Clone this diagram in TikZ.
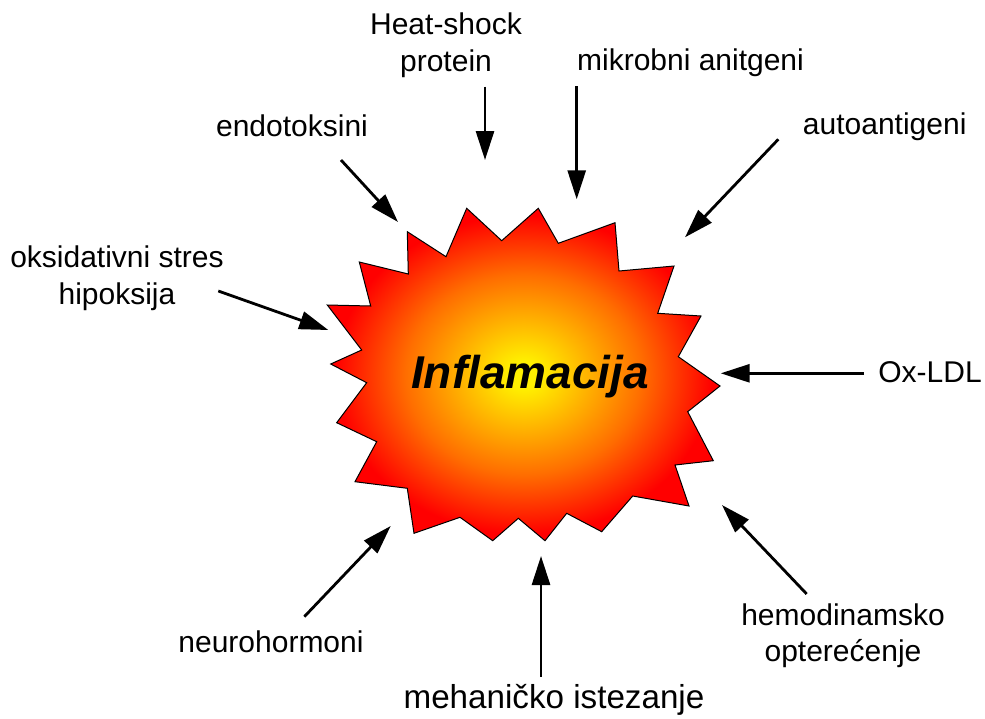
\documentclass[tikz,border=0pt]{standalone}
\usepackage{fontspec}
\setmainfont{Liberation Sans}
\usetikzlibrary{arrows.meta}
\definecolor{burstyellow}{RGB}{255,240,0}
\definecolor{burstgold}{RGB}{255,180,0}
\definecolor{burstorange}{RGB}{255,110,0}
\definecolor{burstred}{RGB}{255,0,0}
\pgfdeclareradialshading{burstfill}{\pgfpoint{0bp}{0bp}}{color(0bp)=(burstyellow); color(2bp)=(burstyellow); color(8bp)=(burstgold); color(15bp)=(burstorange); color(24bp)=(burstred); color(50bp)=(burstred)}
\tikzset{
	lbl/.style={font=\fontsize{15}{18.3}\selectfont, align=center, inner sep=0pt, anchor=base},
	arr/.style={line width=1.4pt, -{Triangle[length=14.5pt, width=9pt]}},
	burst/.style={draw=black, line width=0.5pt, shading=burstfill}
}
\begin{document}
\begin{tikzpicture}[x=0.5pt, y=-0.5pt]
		\useasboundingbox (0,0) rectangle (985,718);
		% the burst
		\draw[burst] (466.7,208.3) -- (501.7,240.7) -- (538.3,208.3) -- (558.3,243.3)
			-- (615,222.7) -- (619,271) -- (674,266) -- (657.7,313.3)
			-- (701,316) -- (678.3,356.7) -- (720,386) -- (687.7,411.7)
			-- (713.3,460.7) -- (675,465) -- (689,506) -- (632.7,496)
			-- (601.7,531.7) -- (566.7,513.3) -- (545,540.7) -- (518.3,518.3)
			-- (492.7,540.7) -- (460,517.3) -- (414,533.3) -- (407.3,488.3)
			-- (355,481.7) -- (376.7,441.7) -- (336.7,422.7) -- (366.7,382.7)
			-- (330.7,364) -- (361.7,350) -- (327.3,305) -- (370.7,306)
			-- (359.3,262) -- (408.3,274) -- (407.3,231.7) -- (446,256.7) -- cycle;
		\node[anchor=base, inner sep=0pt, font=\fontsize{23}{28}\selectfont\bfseries\itshape] (infl) at (530,388.3) {Inflamacija};
		% labels (anchored at the baseline of the last line)
		\node[lbl] (endo) at (292,136.7) {endotoksini};
		\node[lbl] (heat) at (446,71) {Heat-shock\\protein};
		\node[lbl] (mikro) at (690.5,70) {mikrobni anitgeni};
		\node[lbl] (auto) at (884.7,134.3) {autoantigeni};
		\node[lbl] (oks) at (117,304) {oksidativni stres\\hipoksija};
		\node[lbl] (oxldl) at (930,382.7) {Ox-LDL};
		\node[lbl] (hemo) at (843,661.7) {hemodinamsko\\optere\'{c}enje};
		\node[lbl, font=\fontsize{16.6}{20}\selectfont] (meh) at (554,708.3) {mehani\v{c}ko istezanje};
		\node[lbl] (neuro) at (271,652.7) {neurohormoni};
		% arrow ends
		\coordinate (endo-s) at (341,160);   \coordinate (endo-t) at (398,222);
		\coordinate (heat-s) at (485,86.7);  \coordinate (heat-t) at (485,160);
		\coordinate (mikro-s) at (576.7,86); \coordinate (mikro-t) at (576.7,199.3);
		\coordinate (auto-s) at (778.3,139.3); \coordinate (auto-t) at (685,237.3);
		\coordinate (oks-s) at (218.3,291);  \coordinate (oks-t) at (328.3,330);
		\coordinate (oxldl-s) at (864,373.3); \coordinate (oxldl-t) at (720.7,373.3);
		\coordinate (hemo-s) at (806.7,594); \coordinate (hemo-t) at (722,505);
		\coordinate (meh-s) at (541,676.7);  \coordinate (meh-t) at (541,556);
		\coordinate (neuro-s) at (304.3,616.7); \coordinate (neuro-t) at (390.7,526);
		% arrows
		\foreach \n in {endo, heat, mikro, auto, oks, oxldl, hemo, meh, neuro} {
			\draw[arr] (\n-s) -- (\n-t);
		}
	\end{tikzpicture}
\end{document}
